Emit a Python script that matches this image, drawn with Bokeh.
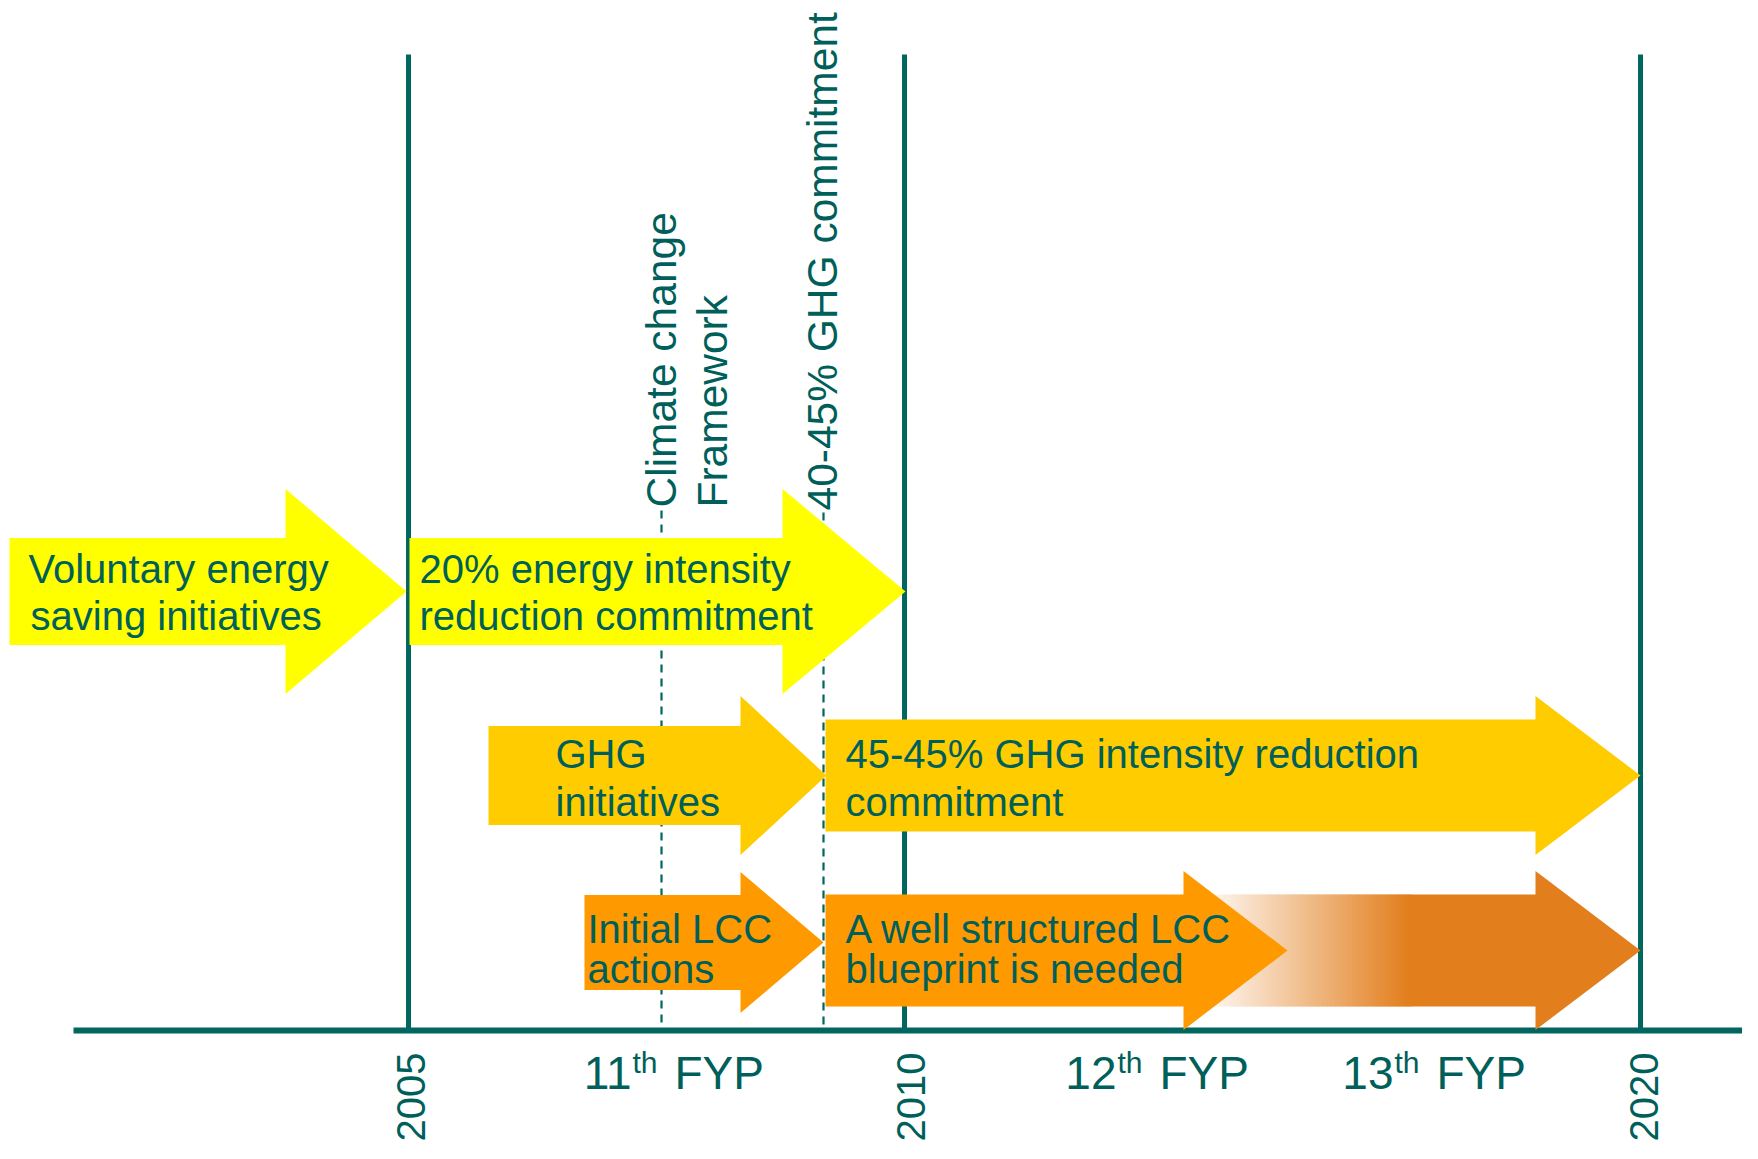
from bokeh.plotting import figure
from bokeh.models import Range1d
from bokeh.core.properties import value
from bokeh.embed import file_html
from bokeh.resources import INLINE
import math

H = 1159  # reference height; y data = H - screen y

# ---------------- data ----------------
# arrows (timeline positions in diagram units)
arrow_names  = ["voluntary", "20pct", "ghg_init", "ghg_commit", "lcc_init", "lcc_blueprint"]
arrow_start  = [9,   409, 488, 825,  584, 825]
arrow_head   = [285, 782, 740, 1535, 740, 1183]
arrow_tip    = [406, 905, 826, 1640, 823, 1287]
arrow_mid    = [591, 591, 775, 775,  942, 950]
arrow_body   = [107, 107, 99,  112,  95,  112]
arrow_headh  = [205, 205, 159, 159,  141, 159]
arrow_color  = ["#FFFF00", "#FFFF00", "#FFCC00", "#FFCC00", "#FF9900", "#FF9900"]

# faded future arrow (gradient)
fade_start, fade_full, fade_head, fade_tip, fade_mid = 1195, 1410, 1535, 1640, 950
fade_body, fade_headh, fade_color = 112, 159, (0xE2, 0x7E, 0x1C)

# arrow labels (one entry per line)
label_text = ["Voluntary energy", "saving initiatives",
              "20% energy intensity", "reduction commitment",
              "GHG", "initiatives",
              "45-45% GHG intensity reduction", "commitment",
              "Initial LCC", "actions",
              "A well structured LCC", "blueprint is needed"]
label_x = [28, 30, 419, 419, 555, 555, 845, 845, 587, 587, 845, 845]
label_y = [568, 615, 568, 615, 753, 801, 753, 801, 928, 968, 928, 968]

# milestone years (solid lines)
years = ["2005", "2010", "2020"]
year_pos = [408, 904, 1640]
year_label_x = [410, 910, 1643]

# events (dashed lines) and their rotated notes
event_pos = [661, 823]
event_top = [510, 512]
note_text = ["Climate change", "Framework", "40-45% GHG commitment"]
note_x = [661, 712, 822]
note_y = [507, 507, 510]
note_size = ["42.5px", "42.5px", "42.5px"]

# five-year plans
fyp_num = ["11", "12", "13"]
fyp_x = [631, 1116, 1393]

axis_y = 1030
TEAL = "#00665F"
TXT = "#005F5A"
FONT = value("Liberation Sans")

# ---------------- figure ----------------
p = figure(width=1742, height=1143, x_range=Range1d(0, 1742), y_range=Range1d(H - 1143, H),
           output_backend="svg", toolbar_location=None, min_border=0,
           x_axis_location=None, y_axis_location=None)
p.grid.visible = False
p.outline_line_color = None
p.background_fill_color = "white"
p.border_fill_color = "white"

# dashed event lines
p.segment(x0=event_pos, y0=[H - t for t in event_top], x1=event_pos, y1=[H - axis_y] * 2,
          line_color=TEAL, line_width=2.2, line_dash="8 6")

# solid year lines
p.segment(x0=year_pos, y0=[H - 54] * 3, x1=year_pos, y1=[H - axis_y] * 3,
          line_color=TEAL, line_width=5)

# timeline axis
p.segment(x0=[73], y0=[H - axis_y], x1=[1751], y1=[H - axis_y], line_color=TEAL, line_width=6)


def arrow_poly(x0, xh, xt, ym, bh, hh):
    xs = [x0, xh, xh, xt, xh, xh, x0]
    ys = [ym - bh / 2, ym - bh / 2, ym - hh / 2, ym, ym + hh / 2, ym + bh / 2, ym + bh / 2]
    return xs, [H - y for y in ys]


# faded arrow: gradient strips blended over white
steps = 108
sx0, sx1, scol = [], [], []
for i in range(steps):
    a = i / (steps - 1)
    xa = fade_start + (fade_full - fade_start) * i / steps
    xb = fade_start + (fade_full - fade_start) * (i + 1) / steps + 1.2
    r = round(255 * (1 - a) + fade_color[0] * a)
    g = round(255 * (1 - a) + fade_color[1] * a)
    b = round(255 * (1 - a) + fade_color[2] * a)
    sx0.append(xa); sx1.append(xb); scol.append("#%02x%02x%02x" % (r, g, b))
p.quad(left=sx0, right=sx1, top=[H - (fade_mid - fade_body / 2)] * steps,
       bottom=[H - (fade_mid + fade_body / 2)] * steps, fill_color=scol, line_color=None)
fx, fy = arrow_poly(fade_full, fade_head, fade_tip, fade_mid, fade_body, fade_headh)
p.patch(fx, fy, fill_color="#%02x%02x%02x" % fade_color, line_color=None)

# main arrows
xs_all, ys_all = [], []
for i in range(len(arrow_names)):
    xs, ys = arrow_poly(arrow_start[i], arrow_head[i], arrow_tip[i], arrow_mid[i],
                        arrow_body[i], arrow_headh[i])
    xs_all.append(xs); ys_all.append(ys)
p.patches(xs_all, ys_all, fill_color=arrow_color, line_color=None)

# arrow labels
p.text(x=label_x, y=[H - y for y in label_y], text=label_text,
       text_font=FONT, text_font_size="40px", text_color=TXT,
       text_align="left", text_baseline="middle")

# rotated notes
p.text(x=note_x, y=[H - y for y in note_y], text=note_text, angle=math.pi / 2,
       text_font=FONT, text_font_size=note_size, text_color=TXT,
       text_align="left", text_baseline="middle")

# year labels (rotated)
p.text(x=year_label_x, y=[H - 1141] * 3, text=years, angle=math.pi / 2,
       text_font=FONT, text_font_size="40px", text_color=TXT,
       text_align="left", text_baseline="middle")

# five-year plan labels
p.text(x=fyp_x, y=[H - 1072] * 3, text=fyp_num,
       text_font=FONT, text_font_size="46px", text_color=TXT,
       text_align="right", text_baseline="middle")
p.text(x=[x + 1 for x in fyp_x], y=[H - 1062] * 3, text=["th"] * 3,
       text_font=FONT, text_font_size="30px", text_color=TXT,
       text_align="left", text_baseline="middle")
p.text(x=[x + 43 for x in fyp_x], y=[H - 1072] * 3, text=["FYP"] * 3,
       text_font=FONT, text_font_size="46px", text_color=TXT,
       text_align="left", text_baseline="middle")

open("out.html", "w").write(file_html(p, INLINE))
